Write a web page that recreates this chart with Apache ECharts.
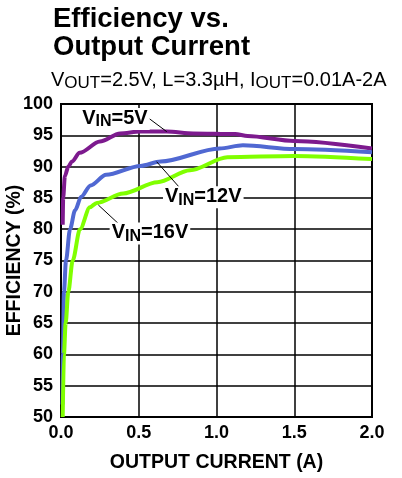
<!DOCTYPE html>
<html>
<head>
<meta charset="utf-8">
<script src="https://cdn.jsdelivr.net/npm/echarts@6/dist/echarts.min.js"></script>
<style>
html,body{margin:0;padding:0;background:#fff;}
#chart{width:402px;height:478px;}
</style>
</head>
<body>
<div id="chart"></div>
<script>
// ---- data ----
const xTicks = [0.0, 0.5, 1.0, 1.5, 2.0];
const yTicks = [50, 55, 60, 65, 70, 75, 80, 85, 90, 95, 100];

const current5 = [0.011, 0.014, 0.025, 0.047, 0.07, 0.12, 0.25, 0.38, 0.51, 0.68, 0.85, 1.12, 1.2, 1.5, 2.0];
const eff5     = [80.7, 85.0, 88.5, 90.0, 90.8, 92.2, 94.0, 95.3, 95.6, 95.6, 95.3, 95.2, 94.9, 94.1, 92.9];

const current12 = [0.01, 0.012, 0.019, 0.032, 0.058, 0.09, 0.13, 0.19, 0.29, 0.51, 0.64, 1.02, 1.17, 1.5, 2.0];
const eff12     = [52.0, 60.0, 70.0, 75.0, 80.0, 83.0, 85.2, 87.0, 88.7, 90.1, 90.8, 92.9, 93.4, 92.8, 92.3];

const current16 = [0.011, 0.019, 0.03, 0.047, 0.075, 0.122, 0.186, 0.23, 0.4, 0.62, 0.83, 1.07, 1.5, 2.0];
const eff16     = [50.0, 60.0, 65.0, 70.0, 75.0, 80.0, 83.5, 84.2, 85.7, 87.5, 89.4, 91.5, 91.7, 91.2];

const seriesNames = ['VIN=5V', 'VIN=12V', 'VIN=16V'];
// label anchors and leader lines, in data units [current, efficiency]
const labelPos = [[0.347, 97.6], [0.915, 85.1], [0.572, 79.3]];
const leaderStart = [[0.551, 97.97], [0.615, 90.78], [0.24, 83.87]];
const leaderEnd   = [[0.68, 95.58], [0.765, 86.58], [0.379, 80.67]];
const labelVoltages = ['5V', '12V', '16V'];

// ---- styles ----
const FONT = 'Liberation Sans, Arial, Helvetica, sans-serif';
const colors = ['#7d1a8e', '#5068d2', '#80ff00'];

function zip(xs, ys) { return xs.map((x, i) => [x, ys[i]]); }

const richLabel = {
  v: { fontSize: 20, fontWeight: 'bold', color: '#000', fontFamily: FONT, verticalAlign: 'top', lineHeight: 22 },
  s: { fontSize: 16, fontWeight: 'bold', color: '#000', fontFamily: FONT, verticalAlign: 'top', lineHeight: 22, padding: [6, 0, 0, 0] }
};

const allData = [zip(current5, eff5), zip(current12, eff12), zip(current16, eff16)];

const series = allData.map((d, i) => ({
  name: seriesNames[i],
  type: 'line',
  data: d,
  showSymbol: false,
  smooth: 0.3,
  smoothMonotone: 'x',
  lineStyle: { color: colors[i], width: 4 },
  itemStyle: { color: colors[i] },
  z: 3,
  markLine: {
    silent: true,
    symbol: ['none', 'none'],
    label: { show: false },
    lineStyle: { color: '#000', width: 1, type: 'solid' },
    data: [[{ coord: leaderStart[i] }, { coord: leaderEnd[i] }]],
    z: 4
  },
  markPoint: {
    silent: true,
    symbol: 'circle',
    symbolSize: 0,
    data: [{ coord: labelPos[i] }],
    label: {
      show: true,
      position: 'inside',
      backgroundColor: '#fff',
      padding: [0, 2, 0, 2],
      formatter: '{v|V}{s|IN}{v|=' + labelVoltages[i] + '}',
      rich: richLabel
    },
    z: 5
  }
}));

const chart = echarts.init(document.getElementById('chart'), null, { renderer: 'canvas' });
chart.setOption({
  backgroundColor: '#fff',
  animation: false,
  title: [
    {
      text: 'Efficiency vs.\nOutput Current',
      left: 53, top: 5, padding: 0,
      textStyle: { fontSize: 27.5, fontWeight: 'bold', lineHeight: 28, color: '#000', fontFamily: FONT }
    },
    {
      text: '{m|V}{s|OUT}{m|=2.5V, L=3.3µH, I}{s|OUT}{m|=0.01A-2A}',
      left: 51, top: 70, padding: 0,
      textStyle: {
        fontWeight: 'normal',
        rich: {
          m: { fontSize: 20, fontWeight: 'normal', color: '#000', fontFamily: FONT, verticalAlign: 'top', lineHeight: 22 },
          s: { fontSize: 17, fontWeight: 'normal', color: '#000', fontFamily: FONT, verticalAlign: 'top', lineHeight: 22, padding: [5, 0, 0, 0] }
        }
      }
    }
  ],
  grid: { left: 61, right: 30, top: 104, bottom: 61, outerBoundsMode: 'none', containLabel: false, show: true, borderColor: '#000', borderWidth: 2, backgroundColor: 'transparent' },
  xAxis: {
    type: 'value', min: xTicks[0], max: xTicks[xTicks.length - 1], interval: 0.5,
    name: 'OUTPUT CURRENT (A)', nameLocation: 'middle', nameGap: 36, nameMoveOverlap: false,
    nameTextStyle: { fontSize: 19.5, fontWeight: 'bold', color: '#000', fontFamily: FONT },
    axisLine: { show: true, lineStyle: { color: '#000', width: 2 } },
    axisTick: { show: false },
    axisLabel: { margin: 7, fontSize: 18, fontWeight: 'bold', color: '#000', fontFamily: FONT, formatter: v => v.toFixed(1) },
    splitLine: { show: true, lineStyle: { color: '#000', width: 1.5 } }
  },
  yAxis: {
    type: 'value', min: yTicks[0], max: yTicks[yTicks.length - 1], interval: 5,
    name: 'EFFICIENCY (%)', nameLocation: 'middle', nameGap: 36, nameRotate: 90, nameMoveOverlap: false,
    nameTextStyle: { fontSize: 19.5, fontWeight: 'bold', color: '#000', fontFamily: FONT },
    axisLine: { show: true, lineStyle: { color: '#000', width: 2 } },
    axisTick: { show: false },
    axisLabel: { margin: 8, fontSize: 18, fontWeight: 'bold', color: '#000', fontFamily: FONT },
    splitLine: { show: true, lineStyle: { color: '#000', width: 1.5 } }
  },
  series: series
});
</script>
</body>
</html>
